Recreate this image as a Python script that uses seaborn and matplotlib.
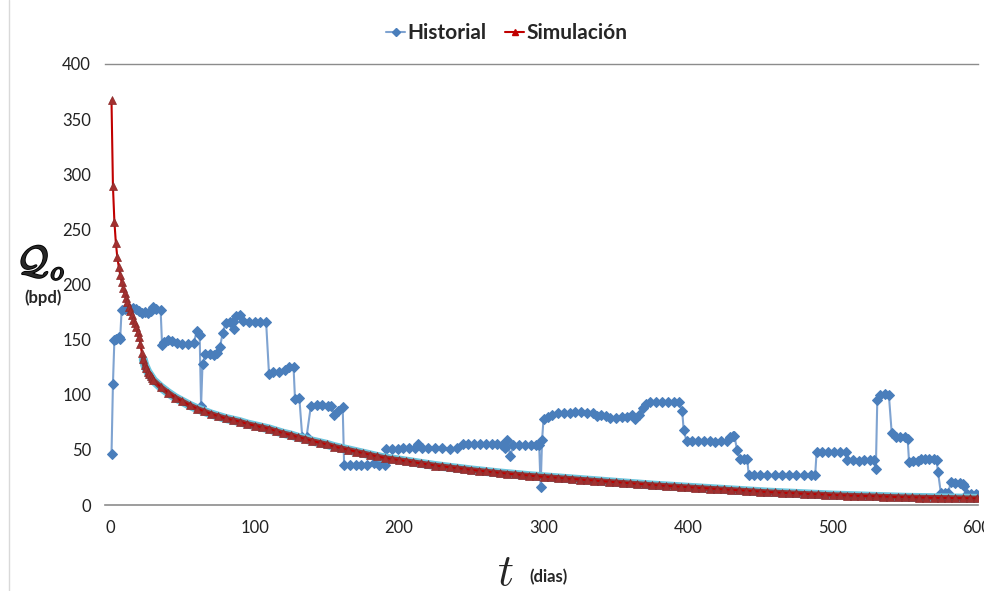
import matplotlib
matplotlib.use("Agg")
import matplotlib.pyplot as plt
import matplotlib.patheffects as pe
import seaborn as sns
from matplotlib.lines import Line2D

# simulated decline (daily early, then every 5 days)
sim_days = list(range(1, 30)) + list(range(30, 601, 5))
sim_q = [367, 289, 257, 238, 225, 216, 209, 202, 197, 192,
         188, 184, 180, 176, 172, 168, 165, 161, 157, 152,
         146, 138, 132, 127, 124, 121, 119, 117, 115,
         113, 107, 102, 97.5, 94, 90.5, 87.5, 85, 82.5, 80.5,
         78.5, 77, 75.5, 73.5, 72, 70.5, 69, 67, 65, 63.5,
         61.5, 60, 58, 56.5, 55, 53, 51.5, 50, 48.5, 47,
         45.5, 44, 42.7, 41.7, 40.8, 39.8, 38.8, 37.8, 36.8, 35.8,
         35, 34.2, 33.4, 32.6, 31.8, 31.1, 30.4, 29.7, 29, 28.4,
         27.8, 27.2, 26.6, 26.1, 25.6, 25.1, 24.6, 24.1, 23.6, 23.1,
         22.6, 22.1, 21.6, 21.1, 20.6, 20.1, 19.6, 19.1, 18.6, 18.1,
         17.7, 17.3, 16.9, 16.5, 16.1, 15.7, 15.3, 14.9, 14.5, 14.1,
         13.7, 13.3, 12.9, 12.5, 12.1, 11.7, 11.4, 11.1, 10.8, 10.5,
         10.2, 9.9, 9.6, 9.3, 9.0, 8.8, 8.6, 8.4, 8.2, 8.0,
         7.8, 7.6, 7.4, 7.2, 7.0, 6.9, 6.8, 6.7, 6.6, 6.5,
         6.4, 6.3, 6.2, 6.1, 6.0]

# field history
hist_days = [1, 2, 3, 4, 6, 7, 8, 10, 12, 14, 16, 18, 20, 22, 24, 26, 28, 30, 32, 35,
             36, 37, 40, 43, 46, 50, 54, 58, 60, 62, 63, 64, 66, 69, 72, 74, 76, 78, 80, 83,
             85, 86, 87, 90, 92, 96, 100, 104, 108, 110, 113, 117, 121, 124, 127, 128, 131, 133, 136, 139,
             143, 147, 151, 153, 155, 158, 161, 162, 166, 170, 174, 178, 183, 186, 190, 191, 195, 199, 203, 207,
             211, 213, 216, 220, 225, 230, 235, 240, 244, 248, 252, 256, 260, 264, 268, 271, 273, 275, 277, 279,
             283, 287, 291, 295, 297, 298, 299, 300, 303, 306, 310, 314, 318, 322, 326, 330, 334, 337, 340, 343,
             346, 350, 354, 358, 361, 363, 366, 369, 371, 374, 378, 382, 386, 390, 394, 396, 397, 399, 403, 407,
             411, 415, 419, 423, 427, 429, 431, 432, 434, 436, 439, 441, 442, 446, 450, 455, 460, 465, 470, 475,
             480, 485, 488, 489, 493, 497, 501, 505, 509, 510, 514, 518, 522, 526, 529, 530, 531, 533, 536, 539,
             541, 544, 547, 550, 552, 553, 556, 559, 561, 564, 567, 570, 572, 573, 575, 578, 580, 582, 585, 588,
             590, 591, 593, 596, 599, 600]
hist_q = [46, 110, 150, 151, 152, 151, 177, 178, 179, 178, 179, 178, 176, 174, 175, 174, 176, 180, 178, 177,
          145, 148, 150, 149, 147, 146, 146, 147, 158, 154, 90, 128, 137, 137, 136, 138, 143, 156, 165, 166,
          166, 160, 171, 172, 167, 166, 166, 166, 166, 119, 121, 121, 122, 125, 125, 96, 97, 62, 62, 90,
          91, 91, 90, 90, 82, 85, 89, 36, 36, 36, 36, 36, 38, 36, 36, 51, 51, 51, 52, 52,
          52, 55, 52, 52, 52, 52, 51, 52, 55, 55, 55, 55, 55, 55, 55, 54, 52, 59, 44, 54,
          54, 54, 54, 54, 54, 16, 59, 78, 80, 82, 83, 83, 83, 84, 84, 83, 83, 81, 82, 81,
          79, 79, 80, 80, 82, 78, 82, 88, 92, 93, 93, 93, 93, 93, 93, 85, 68, 58, 58, 58,
          58, 58, 57, 58, 58, 62, 63, 63, 50, 42, 42, 42, 27, 27, 27, 27, 27, 27, 27, 27,
          27, 27, 27, 48, 48, 48, 48, 48, 48, 41, 41, 40, 41, 41, 41, 33, 95, 100, 101, 100,
          65, 62, 62, 62, 60, 39, 40, 40, 42, 42, 42, 42, 41, 30, 11, 11, 11, 21, 20, 20,
          19, 17, 10, 10, 10, 9]

x_ticks = [0, 100, 200, 300, 400, 500, 600]
y_ticks = [0, 50, 100, 150, 200, 250, 300, 350, 400]

sns.set_style("white")
plt.rcParams['font.family'] = ['Lato', 'DejaVu Sans']
plt.rcParams['mathtext.fontset'] = 'cm'

fig = plt.figure(figsize=(9.84, 5.91), dpi=100)
ax = fig.add_axes([105 / 984, 1 - 505 / 591, 873 / 984, 441 / 591])

hist_blue = '#4a7ebb'
sim_red = '#c00000'

sns.lineplot(x=hist_days, y=hist_q, ax=ax, color='#7fa3d1', linewidth=1.5,
             marker='D', markersize=5.5, markerfacecolor=hist_blue,
             markeredgecolor=hist_blue, zorder=3)
# light halo under the dense part of the simulated curve
sns.lineplot(x=sim_days[22:], y=sim_q[22:], ax=ax, color='#6cc5dd', linewidth=6.5, zorder=3.5)
sns.lineplot(x=sim_days[22:], y=sim_q[22:], ax=ax, color='#8e3a3a', linewidth=4, zorder=3.6)
sns.lineplot(x=sim_days, y=sim_q, ax=ax, color=sim_red, linewidth=1.5,
             marker='^', markersize=5.5, markerfacecolor='#a3302f',
             markeredgecolor='#8b2a2a', markeredgewidth=0.5, zorder=4)

ax.set_xlim(-3.5, 600.7)
ax.set_ylim(0, 400)
ax.set_xticks(x_ticks)
ax.set_yticks(y_ticks)
ax.tick_params(axis='both', labelsize=12, colors='#222222')
ax.tick_params(axis='x', length=5, color='#c8c8c8', direction='out', pad=6)
ax.tick_params(axis='y', length=0, pad=10)

for side in ['left', 'right']:
    ax.spines[side].set_visible(False)
ax.spines['bottom'].set_color('#8c8c8c')
ax.spines['top'].set_color('#8c8c8c')
ax.spines['bottom'].set_linewidth(1.2)
ax.spines['top'].set_linewidth(1.0)
ax.grid(False)
ax.set_xlabel('')
ax.set_ylabel('')

# legend on top
handles = [Line2D([], [], color='#7fa3d1', marker='D', markersize=4,
                  markerfacecolor=hist_blue, markeredgecolor=hist_blue, linewidth=1.5),
           Line2D([], [], color=sim_red, marker='^', markersize=5,
                  markerfacecolor=sim_red, markeredgecolor=sim_red, linewidth=1.5)]
fig.legend(handles, ['Historial', 'Simulación'], loc='center', bbox_to_anchor=(0.515, 1 - 33 / 591),
           ncol=2, frameon=False, handlelength=0.9, handletextpad=0.1, columnspacing=0.9,
           prop={'size': 15, 'weight': 'bold'})

# axis labels
fig.text(41 / 984, 1 - 263 / 591, r'$\mathcal{Q}_o$', fontsize=28, ha='center', va='center',
         path_effects=[pe.withStroke(linewidth=1.3, foreground='black')])
fig.text(43 / 984, 1 - 298 / 591, '(bpd)', fontsize=12, fontweight='bold', ha='center', va='center')
fig.text(505 / 984, 1 - 572 / 591, r'$t$', fontsize=32, ha='center', va='center')
fig.text(548 / 984, 1 - 577 / 591, '(dias)', fontsize=12, fontweight='bold', ha='center', va='center')

# chart area border on the left
fig.add_artist(Line2D([9 / 984, 9 / 984], [0, 1], color='#d9d9d9', linewidth=1))

fig.savefig('out.png', dpi=100)
